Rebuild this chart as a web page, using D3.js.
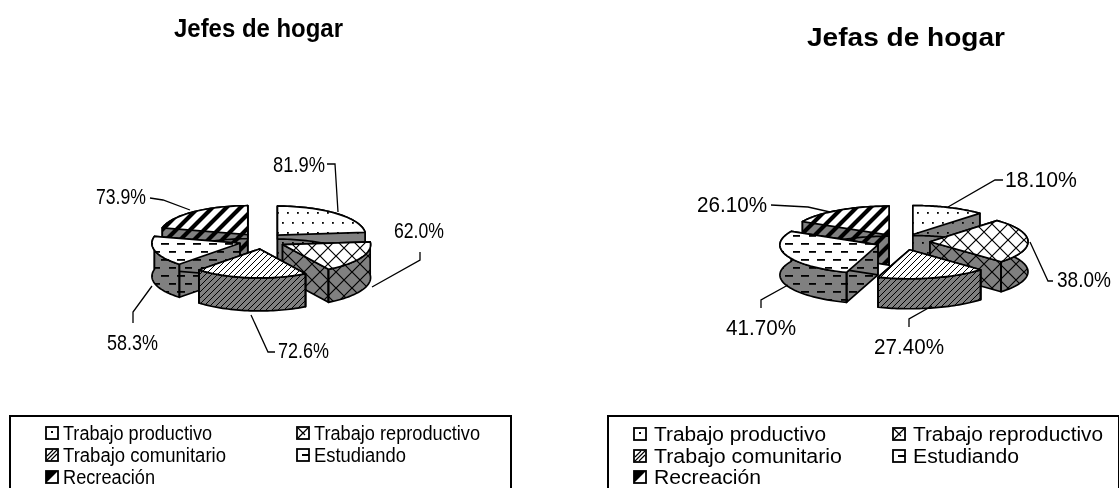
<!DOCTYPE html>
<html><head><meta charset="utf-8">
<script src="https://cdnjs.cloudflare.com/ajax/libs/d3/7.8.5/d3.min.js"></script>
<style>html,body{margin:0;background:#fff}svg{display:block;filter:blur(0.35px)}text{font-family:"Liberation Sans",Arial,sans-serif;fill:#000}</style>
</head><body><svg id="c" width="1119" height="488"></svg>
<script>
const categories=["Trabajo productivo","Trabajo reproductivo","Trabajo comunitario","Estudiando","Recreación"];
const patternIds=["dots","lattice","thin","dash","thick"];
const jefesValues=[81.9,62.0,72.6,58.3,73.9];
const jefesLabels=["81.9%","62.0%","72.6%","58.3%","73.9%"];
const jefasValues=[18.1,38.0,27.4,41.7,26.1];
const jefasLabels=["18.10%","38.0%","27.40%","41.70%","26.10%"];

const svg=d3.select("#c"),defs=svg.append("defs");
function addPattern(id,bg,w,h,draw){
  const p=defs.append("pattern").attr("id",id).attr("patternUnits","userSpaceOnUse").attr("width",w).attr("height",h);
  p.append("rect").attr("width",w).attr("height",h).attr("fill",bg);draw(p);
}
[["t","#fff"],["w","#808080"]].forEach(([s,bg])=>{
  addPattern("dots"+s,bg,10,20,p=>{
    p.append("rect").attr("x",2).attr("y",2).attr("width",1.8).attr("height",1.8).attr("fill","#000");
    p.append("rect").attr("x",7).attr("y",12).attr("width",1.8).attr("height",1.8).attr("fill","#000");
  });
  addPattern("lattice"+s,bg,16,16,p=>{
    p.append("path").attr("d","M-4 20L20 -4M-4 -4L20 20M-4 4L4 -4M12 20L20 12M-4 12L4 20M12 -4L20 4").attr("stroke","#000").attr("stroke-width",1.2).attr("fill","none");
  });
  addPattern("thin"+s,bg,6,6,p=>{
    p.append("path").attr("d","M-1 7L7 -1M-2 2L2 -2M4 8L8 4").attr("stroke","#000").attr("stroke-width",1).attr("fill","none");
  });
  addPattern("dash"+s,bg,16,16,p=>{
    p.append("rect").attr("x",1).attr("y",3).attr("width",8).attr("height",1.8).attr("fill","#000");
    p.append("rect").attr("x",9).attr("y",11).attr("width",7).attr("height",1.8).attr("fill","#000");
  });
  addPattern("thick"+s,bg,14,14,p=>{
    p.append("path").attr("d","M-4 18L18 -4M-4 4L4 -4M10 18L18 10").attr("stroke","#000").attr("stroke-width",4.2).attr("fill","none");
  });
});
// small legend glyphs, one per pattern
const swatchGlyphs={
  dots:g=>g.append("rect").attr("x",5).attr("y",4).attr("width",2).attr("height",2).attr("fill","#000"),
  lattice:g=>g.append("path").attr("d","M1 11L11 1M1 1L8 8").attr("stroke","#000").attr("stroke-width",1.3).attr("fill","none"),
  thin:g=>g.append("path").attr("d","M1 7L7 1M1 11L11 1M5 11L11 5").attr("stroke","#000").attr("stroke-width",1.2).attr("fill","none"),
  dash:g=>g.append("rect").attr("x",5).attr("y",5).attr("width",7).attr("height",2).attr("fill","#000"),
  thick:g=>g.append("path").attr("d","M0 12L0 0L12 0Z").attr("fill","#000")
};

function drawPie(cfg,values,labels){
  const g=svg.append("g");
  const slices=d3.pie().sort(null).value(d=>d)(values);
  const sx=d3.scaleLinear().domain([0,1]).range([0,cfg.r]);
  const sy=d3.scaleLinear().domain([0,1]).range([0,cfg.ry]);
  const line=d3.line();
  slices.forEach((s,i)=>{
    const mid=(s.startAngle+s.endAngle)/2;
    s.ax=cfg.cx+cfg.ex*Math.sin(mid);
    s.ay=cfg.cy-cfg.ey*Math.cos(mid);
    s.rim=d3.range(0,41).map(j=>{
      const a=s.startAngle+(s.endAngle-s.startAngle)*j/40;
      return [s.ax+sx(Math.sin(a)),s.ay-sy(Math.cos(a))];
    });
  });
  const sw=1.7;
  cfg.order.forEach(i=>{
    const s=slices[i],h=cfg.h,id=patternIds[i];
    const apex=[s.ax,s.ay],down=p=>[p[0],p[1]+h];
    const a0=s.rim[0],a1=s.rim[40];
    const style=sel=>sel.attr("stroke","#000").attr("stroke-width",sw).attr("stroke-linejoin","round");
    [a0,a1].forEach(p=>{
      g.append("path").attr("d",line([apex,p,down(p),down(apex)])+"Z").attr("fill",`url(#${id}w)`).call(style);
    });
    g.append("path").attr("d",line([...s.rim,...s.rim.map(down).reverse()])+"Z").attr("fill",`url(#${id}w)`).call(style);
    g.append("path").attr("d",line([apex,...s.rim])+"Z").attr("fill",`url(#${id}t)`).call(style);
    [a0,a1].forEach(p=>{
      if(p[1]>s.ay)g.append("path").attr("d",line([p,down(p)])).attr("stroke","#000").attr("stroke-width",sw);
    });
  });
  cfg.leaders.forEach(l=>{
    g.append("path").attr("d",line(l)).attr("fill","none").attr("stroke","#000").attr("stroke-width",1.3);
  });
  labels.forEach((t,i)=>{
    g.append("text").attr("x",cfg.labelPos[i][0]).attr("y",cfg.labelPos[i][1]).attr("font-size",cfg.labelSize).attr("textLength",cfg.labelLen[i]).attr("lengthAdjust","spacingAndGlyphs").text(t);
  });
  g.append("text").attr("x",cfg.title[0]).attr("y",cfg.title[1]).attr("font-size",26).attr("font-weight","bold").attr("textLength",cfg.title[2]).attr("lengthAdjust","spacingAndGlyphs").text(cfg.titleText);
  const lg=cfg.legend;
  g.append("path").attr("d",`M${lg.x0} ${lg.y1}V${lg.y0}H${lg.x1}V${lg.y1}`).attr("fill","none").attr("stroke","#000").attr("stroke-width",2);
  categories.forEach((c,i)=>{
    const col=i%2,row=Math.floor(i/2);
    const x=lg.cols[col],y=lg.rows[row];
    const sg=g.append("g").attr("transform",`translate(${x},${y-13})`);
    sg.append("rect").attr("width",12).attr("height",12).attr("fill","#fff").attr("stroke","#000").attr("stroke-width",1.8);
    swatchGlyphs[patternIds[i]](sg);
    g.append("text").attr("x",x+lg.gap).attr("y",y).attr("font-size",19.5).attr("textLength",lg.len[i]).attr("lengthAdjust","spacingAndGlyphs").text(c);
  });
}
drawPie({cx:262,cy:241,ex:23,ey:8,r:88,ry:29,h:33,order:[0,4,1,3,2],
  titleText:"Jefes de hogar",title:[174,37,169],labelSize:22,
  labelPos:[[273,172],[394,238],[278,358],[107,350],[96,204]],labelLen:[52,50,51,51,50],
  leaders:[[[327,164],[335,164],[338,212]],[[420,252],[420,260],[372,287]],[[275,352],[268,352],[251,315]],[[133,323],[133,312],[152,286]],[[150,198],[163,200],[190,210]]],
  legend:{x0:10,x1:511,y0:416,y1:488,gap:17,cols:[46,297],rows:[440,462,484],len:[149,166,163,92,92]}},jefesValues,jefesLabels);
drawPie({cx:903,cy:242,ex:27,ey:8,r:98,ry:29,h:30,order:[0,4,1,3,2],
  titleText:"Jefas de hogar",title:[807,46,198],labelSize:22,
  labelPos:[[1005,187],[1057,287],[874,354],[726,335],[697,212]],labelLen:[72,54,70,70,70],
  leaders:[[[1003,180],[995,180],[948,207]],[[1053,281],[1048,281],[1030,242]],[[909,327],[909,319],[932,306]],[[761,308],[761,300],[788,285]],[[771,205],[808,207],[830,212]]],
  legend:{x0:608,x1:1119,y0:416,y1:488,gap:20,cols:[634,893],rows:[441,463,484],len:[172,190,188,106,107]}},jefasValues,jefasLabels);
</script></body></html>
